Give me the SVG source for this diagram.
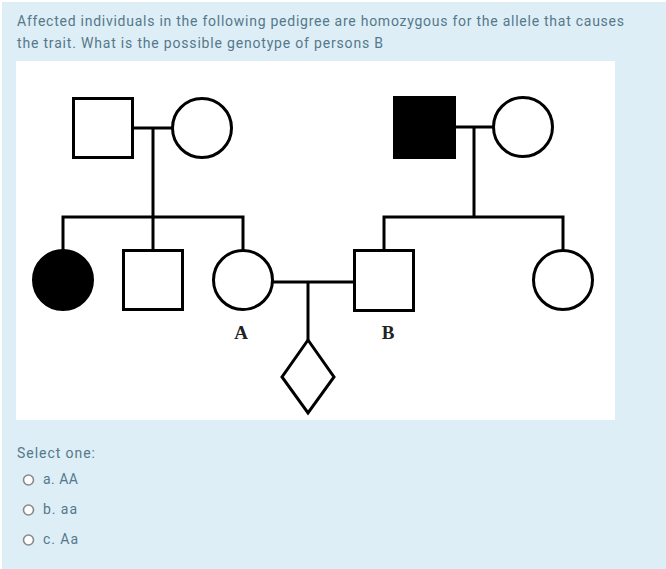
<svg xmlns="http://www.w3.org/2000/svg" width="666" height="569" viewBox="0 0 666 569">
<style>
.txt{font-family:Roboto,"Liberation Sans",sans-serif;font-size:14px;fill:#55788a}
.sym{fill:#fff;stroke:#000;stroke-width:3}
.aff{fill:#000;stroke:#000;stroke-width:3}
.ln{stroke:#000;stroke-width:3;fill:none}
.lbl{font-family:"Liberation Serif","Times New Roman",serif;font-weight:bold;font-size:19px;fill:#222;text-anchor:middle}
.radio{fill:#fff;stroke:#8a8a8a;stroke-width:1.6}
</style>
<rect x="0" y="0" width="666" height="569" fill="#ffffff"/>
<rect x="2" y="2" width="664" height="567" fill="#ddeef7"/>
<text class="txt" x="17" y="26" textLength="607" lengthAdjust="spacing">Affected individuals in the following pedigree are homozygous for the allele that causes</text>
<text class="txt" x="17" y="48" textLength="366" lengthAdjust="spacing">the trait. What is the possible genotype of persons B</text>
<rect x="16" y="61" width="599" height="359" fill="#ffffff"/>
<g id="connectors">
<line class="ln" x1="133" y1="128" x2="172" y2="128"/>
<line class="ln" x1="153" y1="128" x2="153" y2="217"/>
<polyline class="ln" points="63,250 63,217 243,217 243,250"/>
<line class="ln" x1="153" y1="217" x2="153" y2="250"/>
<line class="ln" x1="454" y1="127" x2="493" y2="127"/>
<line class="ln" x1="474" y1="127" x2="474" y2="217"/>
<polyline class="ln" points="384,250 384,217 563,217 563,250"/>
<line class="ln" x1="273" y1="282" x2="354" y2="282"/>
<line class="ln" x1="308" y1="282" x2="308" y2="340"/>
</g>
<g id="gf1"><rect class="sym" x="73.5" y="98.5" width="59" height="59"/></g>
<g id="gm1"><circle class="sym" cx="202" cy="128" r="29.5"/></g>
<g id="gf2"><rect class="aff" x="394.5" y="97.5" width="60" height="60"/></g>
<g id="gm2"><circle class="sym" cx="523" cy="127" r="29.5"/></g>
<g id="c1"><circle class="aff" cx="63" cy="280" r="29.5"/></g>
<g id="c2"><rect class="sym" x="123.5" y="250.5" width="59" height="59"/></g>
<g id="A"><circle class="sym" cx="243" cy="280" r="29.5"/><text class="lbl" x="241" y="339">A</text></g>
<g id="B"><rect class="sym" x="354.5" y="250.5" width="59" height="60"/><text class="lbl" x="388" y="339">B</text></g>
<g id="c3"><circle class="sym" cx="563" cy="280" r="29.5"/></g>
<g id="child"><polygon class="sym" points="308,340 334,377 308,413 282,377"/></g>
<text class="txt" x="17" y="458" textLength="78" lengthAdjust="spacing">Select one:</text>
<circle class="radio" cx="28.5" cy="480" r="5"/>
<text class="txt" x="43" y="484" textLength="35" lengthAdjust="spacing">a. AA</text>
<circle class="radio" cx="28.5" cy="510" r="5"/>
<text class="txt" x="43" y="514" textLength="34" lengthAdjust="spacing">b. aa</text>
<circle class="radio" cx="28.5" cy="540" r="5"/>
<text class="txt" x="43" y="544" textLength="35" lengthAdjust="spacing">c. Aa</text>
</svg>
